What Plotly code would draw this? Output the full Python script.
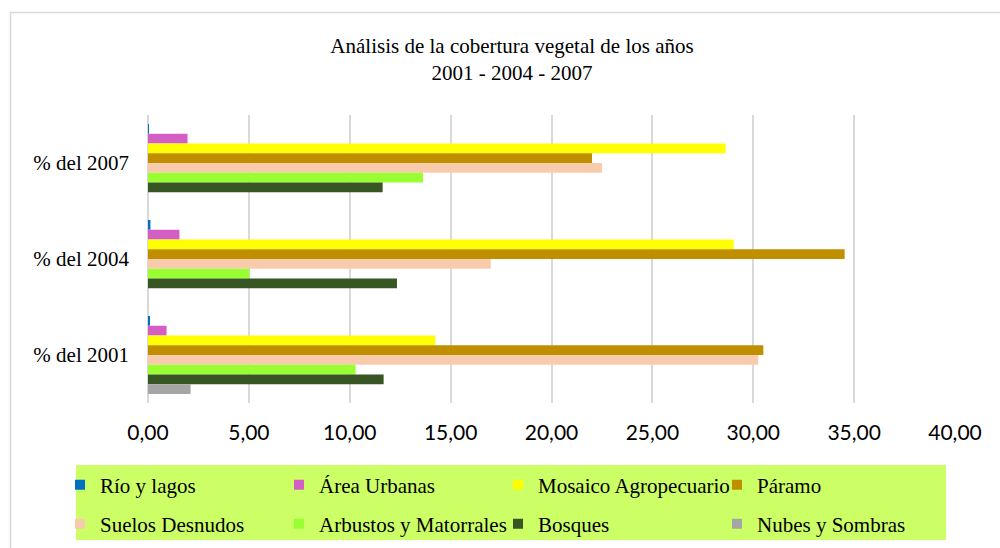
import plotly.graph_objects as go

# Categories (one group of bars per year) and land-cover classes
years = ["% del 2007", "% del 2004", "% del 2001"]
classes = [
    "Río y lagos",
    "Área Urbanas",
    "Mosaico Agropecuario",
    "Páramo",
    "Suelos Desnudos",
    "Arbustos y Matorrales",
    "Bosques",
    "Nubes y Sombras",
]

# Percentage of area per class, in the order of `years`
rio_lagos = [0.04, 0.12, 0.07]
area_urbanas = [1.96, 1.56, 0.92]
mosaico_agropecuario = [28.63, 29.03, 14.24]
paramo = [22.01, 34.53, 30.50]
suelos_desnudos = [22.50, 16.99, 30.25]
arbustos_matorrales = [13.63, 5.03, 10.29]
bosques = [11.63, 12.34, 11.68]
nubes_sombras = [0.0, 0.0, 2.11]

series = [rio_lagos, area_urbanas, mosaico_agropecuario, paramo,
          suelos_desnudos, arbustos_matorrales, bosques, nubes_sombras]

colors = ["#0070C0", "#D35FC5", "#FFFF00", "#BF8F00",
          "#F8CBAD", "#99FF33", "#375623", "#A5A5A5"]

x_ticks = [0, 5, 10, 15, 20, 25, 30, 35, 40]

SERIF = "Liberation Serif"
SANS = "Lato"

fig = go.Figure()

for name, vals, col in zip(classes, series, colors):
    fig.add_trace(go.Bar(
        y=years, x=vals, name=name, orientation="h",
        marker=dict(color=col, line=dict(width=0)),
        legendgroup=name, showlegend=False,
    ))

# Legend entries with small square keys, split over two rows
for i, (name, col) in enumerate(zip(classes, colors)):
    fig.add_trace(go.Scatter(
        x=[None], y=[None], mode="markers", name=name,
        marker=dict(symbol="square", size=10, color=col),
        legendgroup=name, showlegend=True,
        legend="legend" if i < 4 else "legend2",
    ))

# Plot area in pixels
L, T, W, H = 148, 115, 807, 288
FIG_W, FIG_H = 1000, 548


def px_x(p):
    return (p - L) / W


def px_y(p):
    return (T + H - p) / H


legend_common = dict(
    orientation="h", xanchor="left", yanchor="middle",
    bgcolor="rgba(0,0,0,0)", borderwidth=0,
    font=dict(family=SERIF, size=21, color="#000000"),
    entrywidth=174, entrywidthmode="pixels",
    itemclick="toggle",
)

fig.update_layout(
    width=FIG_W, height=FIG_H,
    margin=dict(l=L, r=FIG_W - L - W, t=T, b=FIG_H - T - H, autoexpand=False),
    paper_bgcolor="#FFFFFF", plot_bgcolor="#FFFFFF",
    font=dict(family=SERIF, size=21, color="#000000"),
    separators=",.",
    barmode="group", bargap=0.1875, bargroupgap=0,
    title=dict(
        text="Análisis de la cobertura vegetal de los años<br>2001 - 2004 - 2007",
        x=px_x(512), xref="paper", xanchor="center",
        y=1 - 53 / FIG_H, yref="container", yanchor="top",
        font=dict(family=SERIF, size=21, color="#000000"),
    ),
    xaxis=dict(
        range=[0, 40], tickvals=x_ticks, tickformat=".2f",
        showgrid=True, gridcolor="#D9D9D9", gridwidth=1.5,
        zeroline=True, zerolinecolor="#D9D9D9", zerolinewidth=2,
        showline=False, ticks="",
        tickfont=dict(family=SANS, size=21, color="#000000"),
        ticklabelstandoff=15,
        fixedrange=True,
    ),
    yaxis=dict(
        categoryorder="array", categoryarray=years,
        autorange="reversed",
        showgrid=False, zeroline=False, showline=False, ticks="",
        tickfont=dict(family=SERIF, size=21, color="#000000"),
        ticklabelstandoff=18,
        fixedrange=True,
    ),
    legend=dict(x=px_x(60), y=px_y(485), **legend_common),
    legend2=dict(x=px_x(60), y=px_y(524), **legend_common),
    shapes=[
        # outer chart frame
        dict(type="rect", xref="paper", yref="paper",
             x0=px_x(10.5), x1=px_x(1010), y0=px_y(12.5), y1=px_y(560),
             line=dict(color="#D9D9D9", width=1.5), fillcolor="rgba(0,0,0,0)",
             layer="below"),
        # legend background
        dict(type="rect", xref="paper", yref="paper",
             x0=px_x(76), x1=px_x(946), y0=px_y(465), y1=px_y(540),
             line=dict(width=0), fillcolor="#CCFF66", layer="below"),
    ],
)

fig.write_html("out.html")
